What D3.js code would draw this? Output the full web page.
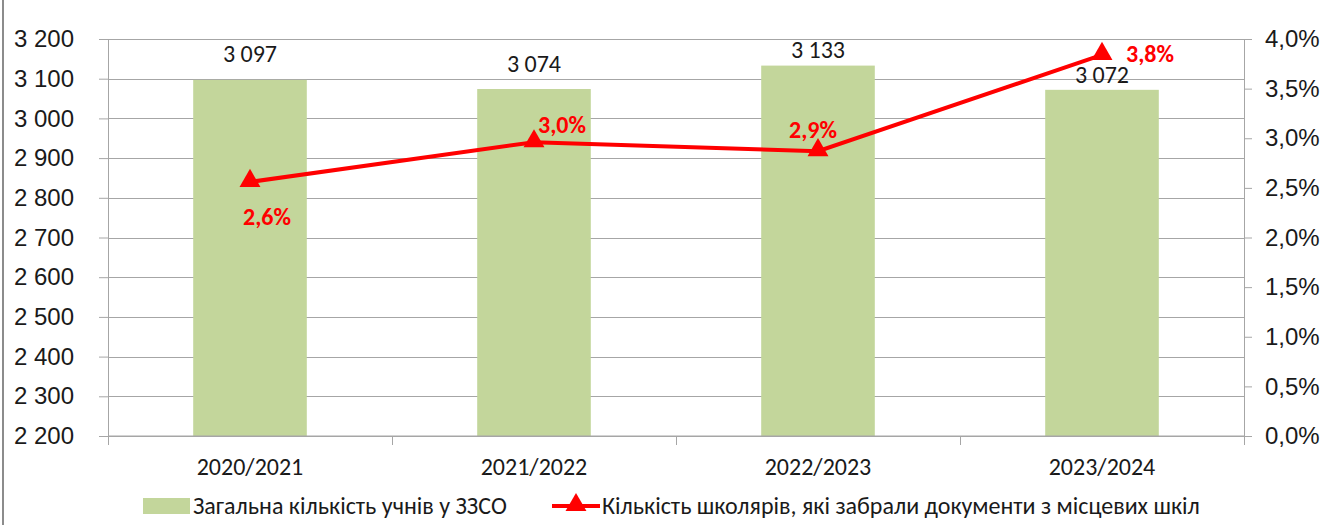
<!DOCTYPE html>
<html>
  <head>
    <meta charset="utf-8" />
    <title>Учні ЗЗСО</title>
    <style>
      body {
        margin: 0;
        background: #fff;
        font-family: Carlito, Lato, "Liberation Sans", sans-serif;
      }
      .grid line {
        stroke: #a6a6a6;
        stroke-width: 1;
      }
      .axis path,
      .axis line {
        stroke: #a6a6a6;
      }
      .axis text {
        font-size: 24px;
        fill: #1a1a1a;
      }
    </style>
    <script src="https://d3js.org/d3.v7.min.js" charset="utf-8"></script>
  </head>
  <body>
    <script>
      const years = ["2020/2021", "2021/2022", "2022/2023", "2023/2024"];
      const students = [3097, 3074, 3133, 3072];
      const leftShare = [2.56, 2.96, 2.87, 3.84];
      const leftTicks = [2200, 2300, 2400, 2500, 2600, 2700, 2800, 2900, 3000, 3100, 3200];
      const pctTicks = [0, 0.5, 1, 1.5, 2, 2.5, 3, 3.5, 4];
      const legendNames = [
        "Загальна кількість учнів у ЗЗСО",
        "Кількість школярів, які забрали документи з місцевих шкіл",
      ];

      const width = 1325,
        height = 525;
      const margin = { top: 39, right: 81, bottom: 89, left: 108 };
      const w = width - margin.left - margin.right,
        h = height - margin.top - margin.bottom;

      const fmtNum = (d) => d3.format(",")(d).replace(/,/g, " ");
      const fmtPct = (d) => d3.format(".1f")(d).replace(".", ",") + "%";

      const svg = d3
        .select("body")
        .append("svg")
        .attr("width", width)
        .attr("height", height);

      // chart frame
      svg
        .append("rect")
        .attr("x", 3)
        .attr("y", -5)
        .attr("width", width + 10)
        .attr("height", height + 10)
        .attr("fill", "none")
        .attr("stroke", "#8c8c8c")
        .attr("stroke-width", 2);

      const g = svg
        .append("g")
        .attr("transform", "translate(" + margin.left + "," + margin.top + ")");

      const x = d3.scaleBand().domain(years).range([0, w]).paddingInner(0.6).paddingOuter(0.3);
      const xc = d3.scaleBand().domain(years).range([0, w]);
      const y = d3.scaleLinear().domain([2200, 3200]).range([h, 0]);
      const y2 = d3.scaleLinear().domain([0, 4]).range([h, 0]);

      // gridlines
      g.append("g")
        .attr("class", "grid")
        .selectAll("line")
        .data(leftTicks)
        .join("line")
        .attr("x1", 0)
        .attr("x2", w)
        .attr("y1", (d) => Math.round(y(d)) + 0.5)
        .attr("y2", (d) => Math.round(y(d)) + 0.5);

      // bars
      g.selectAll(".bar")
        .data(students)
        .join("rect")
        .attr("class", "bar")
        .attr("x", (d, i) => x(years[i]))
        .attr("width", x.bandwidth())
        .attr("y", (d) => y(d))
        .attr("height", (d) => h - y(d))
        .attr("fill", "#c3d69b");

      // left axis
      const yAxis = g
        .append("g")
        .attr("class", "axis")
        .call(d3.axisLeft(y).tickValues(leftTicks).tickSize(9).tickPadding(30).tickFormat(fmtNum));
      yAxis.selectAll("text").attr("text-anchor", "start").attr("x", -94);

      // right axis
      g.append("g")
        .attr("class", "axis")
        .attr("transform", "translate(" + w + ",0)")
        .call(d3.axisRight(y2).tickValues(pctTicks).tickSize(8).tickPadding(13).tickFormat(fmtPct));

      // bottom axis
      const xAxis = g
        .append("g")
        .attr("class", "axis")
        .attr("transform", "translate(0," + h + ")");
      xAxis.append("line").attr("x1", 0).attr("x2", w).attr("stroke", "#a6a6a6");
      xAxis
        .selectAll(".tick")
        .data(d3.range(years.length + 1))
        .join("line")
        .attr("class", "tick")
        .attr("x1", (i) => Math.round(i * xc.step()) + 0.5)
        .attr("x2", (i) => Math.round(i * xc.step()) + 0.5)
        .attr("y1", 0)
        .attr("y2", 9);
      xAxis
        .selectAll("text")
        .data(years)
        .join("text")
        .attr("x", (d) => xc(d) + xc.bandwidth() / 2)
        .attr("y", 39)
        .attr("text-anchor", "middle")
        .text((d) => d);

      // bar value labels (gap above each bar as placed in the original)
      const barLabelGap = [18, 17, 8, 7];
      g.selectAll(".bar-label")
        .data(students)
        .join("text")
        .attr("class", "bar-label")
        .attr("x", (d, i) => xc(years[i]) + xc.bandwidth() / 2)
        .attr("y", (d, i) => y(d) - barLabelGap[i])
        .attr("text-anchor", "middle")
        .attr("font-size", 24)
        .attr("fill", "#1a1a1a")
        .text(fmtNum);

      // line
      const cx = (i) => xc(years[i]) + xc.bandwidth() / 2;
      const line = d3
        .line()
        .x((d, i) => cx(i))
        .y((d) => y2(d));

      g.append("path")
        .datum(leftShare)
        .attr("fill", "none")
        .attr("stroke", "#ff0000")
        .attr("stroke-width", 4)
        .attr("d", line);

      const tri = d3.symbol().type(d3.symbolTriangle).size(190);
      g.selectAll(".marker")
        .data(leftShare)
        .join("path")
        .attr("class", "marker")
        .attr("transform", (d, i) => "translate(" + cx(i) + "," + (y2(d) - 1) + ")")
        .attr("d", tri)
        .attr("fill", "#ff0000");

      // percent labels
      const labelOffsets = [
        [17, 43],
        [28, -9],
        [-5, -13],
        [48, 7],
      ];
      g.selectAll(".pct-label")
        .data(leftShare)
        .join("text")
        .attr("class", "pct-label")
        .attr("x", (d, i) => cx(i) + labelOffsets[i][0])
        .attr("y", (d, i) => y2(d) + labelOffsets[i][1])
        .attr("text-anchor", "middle")
        .attr("font-size", 24)
        .attr("font-weight", "bold")
        .attr("fill", "#ff0000")
        .text(fmtPct);

      // legend
      const legend = svg.append("g").attr("transform", "translate(0,506)");
      legend
        .append("rect")
        .attr("x", 143)
        .attr("y", -8)
        .attr("width", 47)
        .attr("height", 16)
        .attr("fill", "#c3d69b");
      legend
        .append("text")
        .attr("x", 193)
        .attr("y", 8)
        .attr("font-size", 24)
        .attr("fill", "#1a1a1a")
        .text(legendNames[0]);
      legend
        .append("line")
        .attr("x1", 552)
        .attr("x2", 600)
        .attr("y1", 0)
        .attr("y2", 0)
        .attr("stroke", "#ff0000")
        .attr("stroke-width", 4);
      legend
        .append("path")
        .attr("transform", "translate(576,-1)")
        .attr("d", tri)
        .attr("fill", "#ff0000");
      legend
        .append("text")
        .attr("x", 602)
        .attr("y", 8)
        .attr("font-size", 24)
        .attr("fill", "#1a1a1a")
        .text(legendNames[1]);
    </script>
  </body>
</html>
